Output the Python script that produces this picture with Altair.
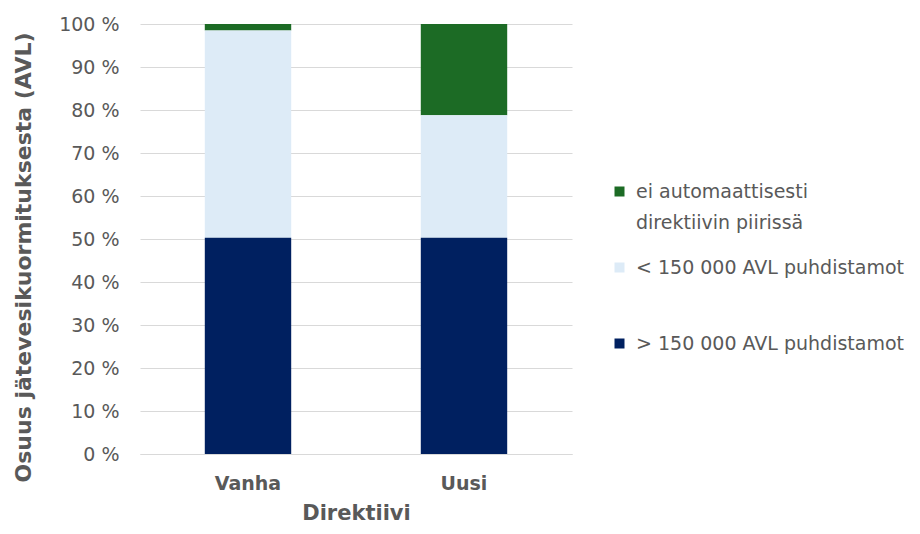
import altair as alt
import pandas as pd

categories = ["Vanha", "Uusi"]
series = [
    "ei automaattisesti direktiivin piirissä",
    "< 150 000 AVL puhdistamot",
    "> 150 000 AVL puhdistamot",
]
colors = ["#1C6B25", "#DDEBF7", "#002060"]
stack_order = [3, 2, 1]
vals_ei = [1.5, 21.2]
vals_lt = [48.2, 28.5]
vals_gt = [50.3, 50.3]

rows = []
for i, c in enumerate(categories):
    for s, v, o in zip(series, [vals_ei[i], vals_lt[i], vals_gt[i]], stack_order):
        rows.append({"Direktiivi": c, "Sarja": s, "Arvo": v, "Jarj": o})
df = pd.DataFrame(rows)

FONT = "DejaVu Sans"
GRAY = "#595959"

chart = (
    alt.Chart(df)
    .mark_bar()
    .encode(
        x=alt.X(
            "Direktiivi:N",
            sort=categories,
            scale=alt.Scale(paddingInner=0.6, paddingOuter=0.3),
            axis=alt.Axis(
                title="Direktiivi",
                labelAngle=0,
                labelFontWeight="bold",
                labelFontSize=19,
                labelColor=GRAY,
                labelPadding=20,
                ticks=False,
                domain=True,
                domainColor="#D9D9D9",
                titleFontSize=21,
                titleColor=GRAY,
                titleFontWeight="bold",
                titlePadding=9,
            ),
        ),
        y=alt.Y(
            "Arvo:Q",
            stack="zero",
            scale=alt.Scale(domain=[0, 100], nice=False),
            axis=alt.Axis(
                title="Osuus jätevesikuormituksesta (AVL)",
                values=list(range(0, 101, 10)),
                labelExpr="datum.value + ' %'",
                labelFontSize=19,
                labelColor=GRAY,
                labelPadding=21,
                ticks=False,
                domain=False,
                gridColor="#D9D9D9",
                gridWidth=1.2,
                titleFontSize=22,
                titleColor=GRAY,
                titleFontWeight="bold",
                titlePadding=23,
                titleY=233,
            ),
        ),
        color=alt.Color(
            "Sarja:N",
            scale=alt.Scale(domain=series, range=colors),
            sort=series,
            legend=alt.Legend(
                title=None,
                orient="none",
                legendX=470,
                legendY=158,
                symbolType="square",
                symbolSize=100,
                symbolStrokeWidth=0,
                labelFontSize=19,
                labelColor=GRAY,
                labelFont=FONT,
                labelLimit=400,
                rowPadding=25,
                labelOffset=7,
                labelExpr="datum.label == 'ei automaattisesti direktiivin piirissä' ? ['ei automaattisesti', 'direktiivin piirissä'] : [datum.label, ' ']",
            ),
        ),
        order=alt.Order("Jarj:Q", sort="ascending"),
    )
    .properties(
        width=432,
        height=430,
        autosize=alt.AutoSizeParams(type="none"),
        padding={"left": 132, "top": 16, "right": 340, "bottom": 72},
    )
    .configure(font=FONT, style={"guide-label": {"lineHeight": 31}})
    .configure_view(stroke=None)
)

chart.save("out.html", embed_options={"renderer": "svg", "actions": False})
